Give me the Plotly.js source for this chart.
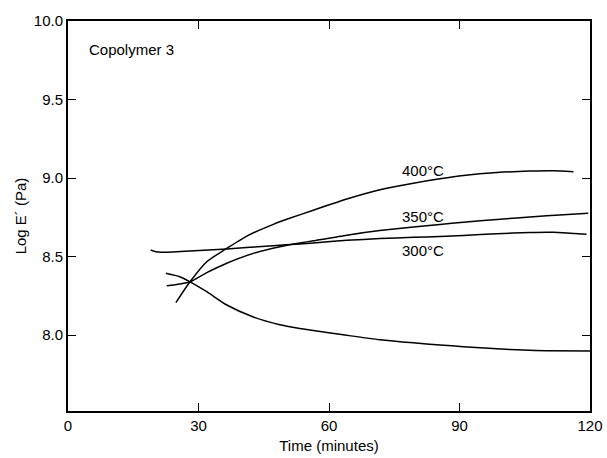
<!DOCTYPE html>
<html>
<head>
<meta charset="utf-8">
<script src="https://cdn.plot.ly/plotly-3.0.1.min.js"></script>
<style>html,body{margin:0;padding:0;background:#fff;}#chart{width:607px;height:458px;}</style>
</head>
<body>
<div id="chart"></div>
<script>
// Curve data (time in minutes, Log E' in Pa)
const t400 = [24.8, 28.05, 31.9, 36.3, 41.1, 47.2, 50.6, 56.4, 64.1, 71.7, 79.4, 85.5, 90.9, 98.6, 106.2, 111.5, 116.2];
const e400 = [8.206, 8.339, 8.467, 8.548, 8.630, 8.705, 8.740, 8.795, 8.866, 8.925, 8.967, 8.995, 9.016, 9.035, 9.044, 9.046, 9.040];

const t350 = [22.7, 25.7, 28.05, 31.9, 36.5, 42.6, 48.7, 53.3, 56.4, 64.1, 71.7, 79.4, 85.5, 90.9, 98.6, 106.2, 113.9, 119.6];
const e350 = [8.314, 8.325, 8.339, 8.397, 8.457, 8.520, 8.562, 8.586, 8.600, 8.636, 8.665, 8.688, 8.704, 8.718, 8.736, 8.752, 8.766, 8.775];

const t300 = [19.0, 20.2, 21.5, 28.0, 36.5, 47.2, 53.3, 56.4, 64.1, 71.7, 79.4, 85.5, 90.9, 98.6, 106.2, 111.6, 115.4, 119.2];
const e300 = [8.541, 8.530, 8.527, 8.535, 8.548, 8.569, 8.580, 8.586, 8.603, 8.614, 8.622, 8.628, 8.634, 8.645, 8.653, 8.654, 8.648, 8.641];

const tLow = [22.5, 25.7, 28.05, 31.9, 36.5, 42.6, 48.7, 53.3, 56.4, 64.1, 71.7, 79.4, 85.5, 90.9, 98.6, 104.7, 110, 120];
const eLow = [8.393, 8.371, 8.339, 8.276, 8.191, 8.115, 8.066, 8.042, 8.028, 7.998, 7.970, 7.950, 7.937, 7.926, 7.912, 7.904, 7.900, 7.898];

const xTicks = [0, 30, 60, 90, 120];
const yTicks = [8.0, 8.5, 9.0, 9.5, 10.0];

const curveLabels = ["400°C", "350°C", "300°C"];
const labelX = [81.6, 81.6, 81.6];
const labelY = [9.051, 8.758, 8.541];

const panelLabel = "Copolymer 3";

const FONT = "Liberation Sans, Arial, Helvetica, sans-serif";
const lineStyle = {color: "#000", width: 1.5, shape: "spline", smoothing: 0.6};

const traces = [
  {x: t400, y: e400},
  {x: t350, y: e350},
  {x: t300, y: e300},
  {x: tLow, y: eLow}
].map(d => Object.assign({type: "scatter", mode: "lines", line: lineStyle, hoverinfo: "skip", showlegend: false}, d));

const annotations = curveLabels.map((txt, i) => ({
  x: labelX[i], y: labelY[i], xref: "x", yref: "y", text: txt, showarrow: false,
  font: {family: FONT, size: 15, color: "#000"}, xanchor: "center", yanchor: "middle"
}));
annotations.push({
  x: 4.4, y: 9.818, xref: "x", yref: "y", text: panelLabel, showarrow: false,
  font: {family: FONT, size: 15, color: "#000"}, xanchor: "left", yanchor: "middle"
});

const axisCommon = {
  showgrid: false, zeroline: false, showline: true, linecolor: "#000", linewidth: 2,
  mirror: "ticks", ticks: "inside", ticklen: 8, tickwidth: 1, tickcolor: "#000",
  tickfont: {family: FONT, size: 15, color: "#000"}
};

const layout = {
  width: 607, height: 458,
  margin: {l: 68, r: 17, t: 21, b: 47},
  paper_bgcolor: "#fff", plot_bgcolor: "#fff",
  font: {family: FONT, size: 15, color: "#000"},
  xaxis: Object.assign({}, axisCommon, {
    range: [0, 120], tickmode: "array", tickvals: xTicks, ticktext: xTicks.map(String),
    title: {text: "Time (minutes)", font: {family: FONT, size: 15, color: "#000"}, standoff: 7}
  }),
  yaxis: Object.assign({}, axisCommon, {
    range: [7.516, 10.0], tickmode: "array", tickvals: yTicks, ticktext: yTicks.map(v => v.toFixed(1)),
    title: {text: "Log E´ (Pa)", font: {family: FONT, size: 15, color: "#000"}, standoff: 4}
  }),
  annotations: annotations
};

Plotly.newPlot("chart", traces, layout, {staticPlot: true, displayModeBar: false});
</script>
</body>
</html>
